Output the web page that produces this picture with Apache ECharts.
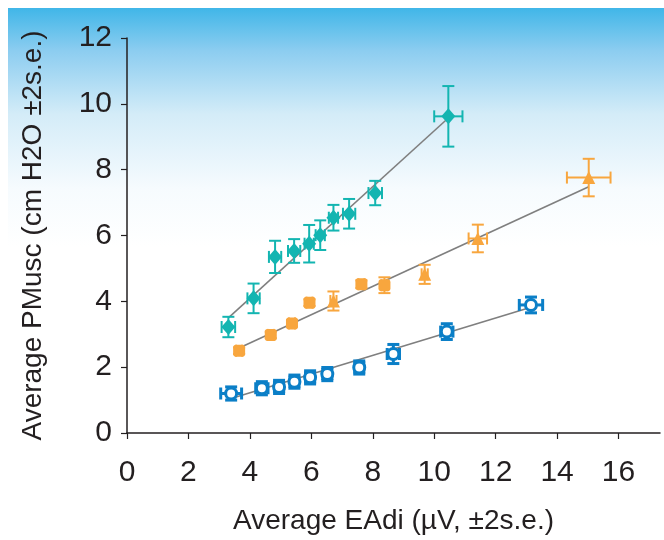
<!DOCTYPE html>
<html>
<head>
<meta charset="utf-8">
<script src="https://cdn.jsdelivr.net/npm/echarts@6/dist/echarts.min.js"></script>
<style>
  html, body { margin: 0; padding: 0; background: #ffffff; }
  #chart { width: 664px; height: 540px; }
</style>
</head>
<body>
<div id="chart"></div>
<script>
// 数据：三组测量点（x, y, 以及 ±2s.e.）
const tealX = [3.30, 4.12, 4.82, 5.44, 5.93, 6.29, 6.72, 7.23, 8.08, 10.46];
const tealY = [3.22, 4.09, 5.35, 5.53, 5.75, 6.01, 6.54, 6.66, 7.29, 9.62];
const tealXErr = [0.22, 0.20, 0.20, 0.20, 0.15, 0.15, 0.15, 0.20, 0.22, 0.46];
const tealYErr = [0.31, 0.45, 0.49, 0.36, 0.57, 0.45, 0.39, 0.45, 0.37, 0.92];

const orangeX = [3.65, 4.68, 5.37, 5.94, 6.72, 7.63, 8.38, 9.69, 11.42, 15.03];
const orangeY = [2.50, 2.98, 3.33, 3.96, 4.01, 4.52, 4.49, 4.82, 5.91, 7.76];
const orangeXErr = [0.10, 0.10, 0.10, 0.10, 0.10, 0.10, 0.10, 0.10, 0.30, 0.71];
const orangeYErr = [0.10, 0.10, 0.10, 0.10, 0.29, 0.12, 0.24, 0.29, 0.42, 0.57];

const blueX = [3.39, 4.39, 4.95, 5.45, 5.96, 6.52, 7.56, 8.67, 10.41, 13.15];
const blueY = [1.20, 1.36, 1.40, 1.56, 1.69, 1.79, 1.99, 2.40, 3.08, 3.89];
const blueXErr = [0.34, 0.20, 0.15, 0.15, 0.15, 0.15, 0.15, 0.20, 0.20, 0.38];
const blueYErr = [0.20, 0.20, 0.20, 0.20, 0.20, 0.20, 0.20, 0.29, 0.24, 0.24];

// 回归线端点
const tealFitX = [3.30, 10.46];
const tealFitY = [3.50, 9.57];
const orangeFitX = [3.65, 15.03];
const orangeFitY = [2.58, 7.48];
const blueFitX = [3.39, 13.15];
const blueFitY = [1.05, 3.82];

// 刻度
const xTicks = [0, 2, 4, 6, 8, 10, 12, 14, 16];
const yTicks = [0, 2, 4, 6, 8, 10, 12];

// 样式
const font = "'Liberation Sans', Arial, sans-serif";
const textColor = '#231f20';
const tealColor = '#13b5b1';
const orangeColor = '#f8a63e';
const blueColor = '#0b7fc7';
const fitColor = '#7f7f7f';
const orangeSymbols = ['roundRect', 'roundRect', 'roundRect', 'roundRect', 'triangle',
  'roundRect', 'roundRect', 'triangle', 'triangle', 'triangle'];

const pairs = (xs, ys) => xs.map((v, i) => [v, ys[i]]);
const quads = (xs, ys, ex, ey) => xs.map((v, i) => [v, ys[i], ex[i], ey[i]]);

// 误差线（横向 + 纵向，带端帽）
const errorBars = (color, lw) => (params, api) => {
  const x = api.value(0), y = api.value(1);
  const ex = api.value(2), ey = api.value(3);
  const top = api.coord([x, y + ey]);
  const bot = api.coord([x, y - ey]);
  const lft = api.coord([x - ex, y]);
  const rgt = api.coord([x + ex, y]);
  const cap = 6;
  const style = { stroke: color, lineWidth: lw, fill: null };
  const seg = (x1, y1, x2, y2) => ({ type: 'line', shape: { x1, y1, x2, y2 }, style });
  return {
    type: 'group',
    children: [
      seg(top[0], top[1], bot[0], bot[1]),
      seg(top[0] - cap, top[1], top[0] + cap, top[1]),
      seg(bot[0] - cap, bot[1], bot[0] + cap, bot[1]),
      seg(lft[0], lft[1], rgt[0], rgt[1]),
      seg(lft[0], lft[1] - cap, lft[0], lft[1] + cap),
      seg(rgt[0], rgt[1] - cap, rgt[0], rgt[1] + cap),
    ],
  };
};

const fitLine = (xs, ys) => ({
  type: 'line',
  data: pairs(xs, ys),
  symbol: 'none',
  lineStyle: { color: fitColor, width: 1.6 },
  z: 1,
  silent: true,
});

const errSeries = (xs, ys, ex, ey, color, lw) => ({
  type: 'custom',
  data: quads(xs, ys, ex, ey),
  renderItem: errorBars(color, lw),
  z: 2,
  silent: true,
});

const chart = echarts.init(document.getElementById('chart'));

const option = {
  animation: false,
  graphic: [{
    type: 'rect',
    z: -10,
    silent: true,
    shape: { x: 8, y: 8, width: 656, height: 532 },
    style: {
      fill: new echarts.graphic.LinearGradient(0, 0, 0, 1, [
        { offset: 0, color: '#40b6e8' },
        { offset: 0.08, color: '#8ccdf0' },
        { offset: 0.2, color: '#d4ecf8' },
        { offset: 0.34, color: '#f6fbfe' },
        { offset: 0.45, color: '#ffffff' },
        { offset: 1, color: '#ffffff' },
      ]),
    },
  }],
  grid: { left: 127, right: 4, top: 38, bottom: 106 },
  xAxis: {
    type: 'value',
    min: 0,
    max: 17.35,
    name: 'Average EAdi (µV, ±2s.e.)',
    nameLocation: 'middle',
    nameGap: 74,
    nameTextStyle: { color: textColor, fontSize: 28, fontFamily: font },
    splitLine: { show: false },
    axisLine: { lineStyle: { color: textColor, width: 1.5 } },
    axisTick: { length: 6, customValues: xTicks, lineStyle: { color: textColor, width: 1.2 } },
    axisLabel: { customValues: xTicks, margin: 25, color: textColor, fontSize: 30, fontFamily: font },
  },
  yAxis: {
    type: 'value',
    min: 0,
    max: 12,
    interval: 2,
    name: 'Average PMusc (cm H2O ±2s.e.)',
    nameLocation: 'middle',
    nameGap: 80,
    nameTextStyle: { color: textColor, fontSize: 28, fontFamily: font },
    splitLine: { show: false },
    axisLine: { show: true, lineStyle: { color: textColor, width: 1.5 } },
    axisTick: { show: true, length: 6, customValues: yTicks, lineStyle: { color: textColor, width: 1.2 } },
    axisLabel: { customValues: yTicks, margin: 15, color: textColor, fontSize: 30, fontFamily: font },
  },
  series: [
    fitLine(tealFitX, tealFitY),
    fitLine(orangeFitX, orangeFitY),
    fitLine(blueFitX, blueFitY),
    errSeries(tealX, tealY, tealXErr, tealYErr, tealColor, 2),
    errSeries(orangeX, orangeY, orangeXErr, orangeYErr, orangeColor, 2),
    errSeries(blueX, blueY, blueXErr, blueYErr, blueColor, 3),
    {
      type: 'scatter',
      data: pairs(tealX, tealY),
      symbol: 'diamond',
      symbolSize: [14, 16],
      itemStyle: { color: tealColor, opacity: 1 },
      z: 3,
    },
    {
      type: 'scatter',
      data: pairs(orangeX, orangeY).map((p, i) => ({
        value: p,
        symbol: orangeSymbols[i],
        symbolSize: orangeSymbols[i] === 'triangle' ? 13 : 12,
      })),
      itemStyle: { color: orangeColor, opacity: 1 },
      z: 3,
    },
    {
      type: 'scatter',
      data: pairs(blueX, blueY),
      symbol: 'circle',
      symbolSize: 11,
      itemStyle: { color: '#ffffff', borderColor: blueColor, borderWidth: 3, opacity: 1 },
      z: 3,
    },
  ],
};

chart.setOption(option);
</script>
</body>
</html>
